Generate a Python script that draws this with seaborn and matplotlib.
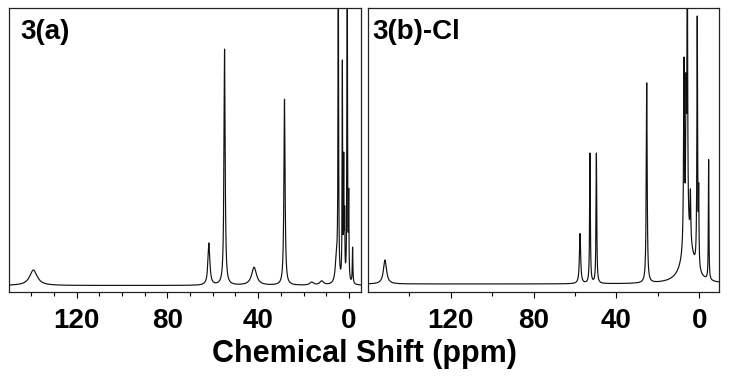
import numpy as np
import pandas as pd
import matplotlib
matplotlib.use("Agg")
import matplotlib.pyplot as plt
import seaborn as sns

# peak tables (ppm, height, half width)
pos_a = [139.0, 61.7, 54.8, 41.8, 28.4, 16.4, 12.0, 5.5, 4.7, 2.9, 2.3, 1.9, 0.75, 0.1, -1.6]
height_a = [15.5, 42, 236, 18, 186, 3, 4, 25, 320, 215, 115, 60, 300, 80, 36]
width_a = [2.0, 0.5, 0.3, 1.3, 0.3, 1.0, 1.0, 0.6, 0.15, 0.12, 0.12, 0.12, 0.15, 0.12, 0.15]

pos_b = [151.8, 57.6, 52.8, 49.7, 25.4, 5.5, 7.4, 6.4, 5.8, 4.3, 1.0, 0.3, -4.5]
height_b = [24, 50, 130, 130, 200, 45, 185, 130, 280, 48, 250, 70, 120]
width_b = [0.9, 0.35, 0.2, 0.2, 0.25, 3.0, 0.25, 0.2, 0.2, 0.2, 0.2, 0.15, 0.15]

labels = ["3(a)", "3(b)-Cl"]
major_ticks = [120, 80, 40, 0]
minor_a = [140, 130, 110, 100, 90, 70, 60, 50, 30, 20, 10]
minor_b = [140, 100, 60, 20]


def spectrum(ppm, pos, hgt, wid):
    y = np.zeros_like(ppm)
    for p, h, w in zip(pos, hgt, wid):
        y += h * w**2 / ((ppm - p)**2 + w**2)
    return y


sns.set_style("ticks")
plt.rcParams["font.family"] = ["Liberation Sans", "DejaVu Sans"]
plt.rcParams["font.weight"] = "bold"
plt.rcParams["text.color"] = "black"
plt.rcParams["xtick.color"] = "black"

fig = plt.figure(figsize=(7.29, 3.79), dpi=100)
ax1 = fig.add_axes([8.5 / 729, 1 - 292 / 379, 352.5 / 729, 284 / 379])
ax2 = fig.add_axes([368 / 729, 1 - 292 / 379, 351 / 729, 284 / 379])

ppm_a = np.linspace(-6, 151, 16000)
ppm_b = np.linspace(-10, 161, 17000)
df_a = pd.DataFrame({"ppm": ppm_a, "I": spectrum(ppm_a, pos_a, height_a, width_a)})
df_b = pd.DataFrame({"ppm": ppm_b, "I": spectrum(ppm_b, pos_b, height_b, width_b)})

sns.lineplot(data=df_a, x="ppm", y="I", ax=ax1, color="#111111", lw=0.85, estimator=None)
sns.lineplot(data=df_b, x="ppm", y="I", ax=ax2, color="#111111", lw=0.85, estimator=None)

ax1.set_xlim(150, -5.3)
ax1.set_ylim(-6.5, 277.5)
ax1.set_xticks(minor_a, minor=True)

ax2.set_xlim(160, -9.5)
ax2.set_ylim(-8, 276)
ax2.set_xticks(minor_b, minor=True)

for ax, lab, xo in zip([ax1, ax2], labels, [0.033, 0.011]):
    ax.set_xticks(major_ticks)
    ax.set_xticklabels([str(v) for v in major_ticks], fontweight="bold")
    ax.set_yticks([])
    ax.set_xlabel("")
    ax.set_ylabel("")
    for s in ax.spines.values():
        s.set_visible(True)
        s.set_linewidth(0.9)
        s.set_color("#222222")
    ax.tick_params(axis="x", which="major", direction="out", length=4.5, width=0.8,
                   pad=7, labelsize=20, colors="black")
    ax.tick_params(axis="x", which="minor", direction="out", length=3, width=0.8,
                   colors="black")
    ax.text(xo, 0.962, lab, transform=ax.transAxes, ha="left", va="top",
            fontsize=20, fontweight="bold", color="black")

fig.text(0.5, 1 - 361.7 / 379, "Chemical Shift (ppm)", ha="center", va="baseline",
         fontsize=22, fontweight="bold", color="black")

fig.savefig("out.png", dpi=100)
